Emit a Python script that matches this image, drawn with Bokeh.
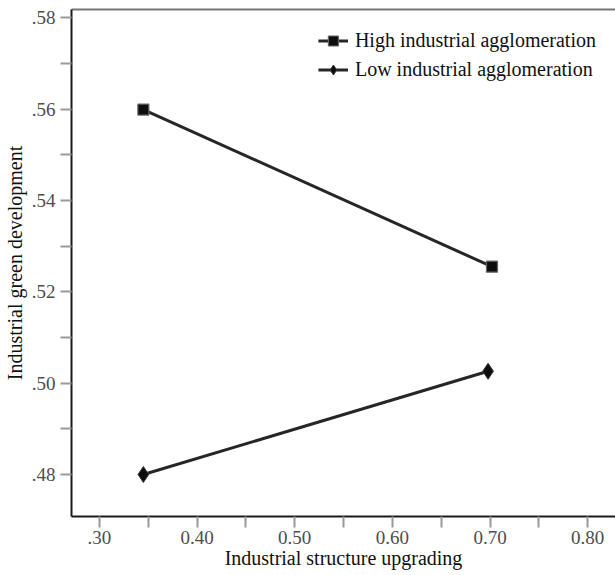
from bokeh.plotting import figure
from bokeh.models import Range1d, FixedTicker, LinearAxis, Legend, LegendItem
from bokeh.embed import file_html
from bokeh.resources import INLINE

# Data
x_high = [0.345, 0.702]
y_high = [0.5599, 0.5255]
x_low = [0.345, 0.698]
y_low = [0.4800, 0.5026]

x_ticks = [0.30, 0.40, 0.50, 0.60, 0.70, 0.80]
x_tick_labels = [".30", "0.40", "0.50", "0.60", "0.70", "0.80"]
x_minor = [0.35, 0.45, 0.55, 0.65, 0.75]
y_ticks = [0.48, 0.50, 0.52, 0.54, 0.56, 0.58]
y_tick_labels = [".48", ".50", ".52", ".54", ".56", ".58"]
y_minor = [0.49, 0.51, 0.53, 0.55, 0.57]

FONT = "'Liberation Serif', 'DejaVu Serif', serif"

p = figure(width=615, height=575, output_backend="svg", toolbar_location=None,
           x_range=Range1d(0.2714, 0.8285), y_range=Range1d(0.4708, 0.5818),
           min_border_left=69, min_border_right=0, min_border_top=9, min_border_bottom=59)
p.outline_line_color = None
p.grid.visible = False
p.background_fill_color = "white"

l1 = p.line(x_high, y_high, line_color="#262626", line_width=3)
m1 = p.scatter(x_high, y_high, marker="square", size=11, fill_color="#0d0d0d",
               line_color="#666666", line_width=1.2)
l2 = p.line(x_low, y_low, line_color="#262626", line_width=3)
m2 = p.scatter(x_low, y_low, marker="diamond", size=16, fill_color="#0d0d0d",
               line_color="#333333", line_width=1)

for ax, ticks, minor, labels in [(p.xaxis[0], x_ticks, x_minor, x_tick_labels),
                                 (p.yaxis[0], y_ticks, y_minor, y_tick_labels)]:
    ax.ticker = FixedTicker(ticks=ticks, minor_ticks=minor)
    ax.major_label_overrides = {t: l for t, l in zip(ticks, labels)}
    ax.axis_line_color = "#1a1a1a"
    ax.axis_line_width = 2
    ax.major_tick_line_color = "#999999"
    ax.minor_tick_line_color = "#999999"
    ax.major_tick_line_width = 2
    ax.minor_tick_line_width = 2
    ax.major_tick_in = 0
    ax.minor_tick_in = 0
    ax.major_tick_out = 11
    ax.minor_tick_out = 11
    ax.major_label_text_font = FONT
    ax.major_label_text_font_size = "19px"
    ax.major_label_text_color = "#4d4d4d"
    ax.axis_label_text_font = FONT
    ax.axis_label_text_font_size = "20px"
    ax.axis_label_text_font_style = "normal"
    ax.axis_label_text_color = "#111111"

p.xaxis.axis_label = "Industrial structure upgrading"
p.yaxis.axis_label = "Industrial green development"
p.xaxis.major_label_standoff = 3
p.xaxis.axis_label_standoff = 0
p.yaxis.major_label_standoff = 5
p.yaxis.axis_label_standoff = 3

top = LinearAxis(ticker=FixedTicker(ticks=[], minor_ticks=[]),
                 major_tick_line_color=None, minor_tick_line_color=None,
                 axis_line_color="#777777", axis_line_width=2,
                 major_tick_out=0, major_label_standoff=0)
p.add_layout(top, "above")

legend = Legend(items=[LegendItem(label="High industrial agglomeration", renderers=[l1, m1]),
                       LegendItem(label="Low industrial agglomeration", renderers=[l2, m2])],
                location="top_right")
legend.border_line_color = None
legend.background_fill_alpha = 0
legend.label_text_font = FONT
legend.label_text_font_size = "20px"
legend.label_text_color = "#111111"
legend.glyph_width = 30
legend.glyph_height = 25
legend.label_standoff = 7
legend.spacing = 4
legend.margin = 19
legend.padding = 4
p.add_layout(legend)

open("out.html", "w").write(file_html(p, INLINE))
